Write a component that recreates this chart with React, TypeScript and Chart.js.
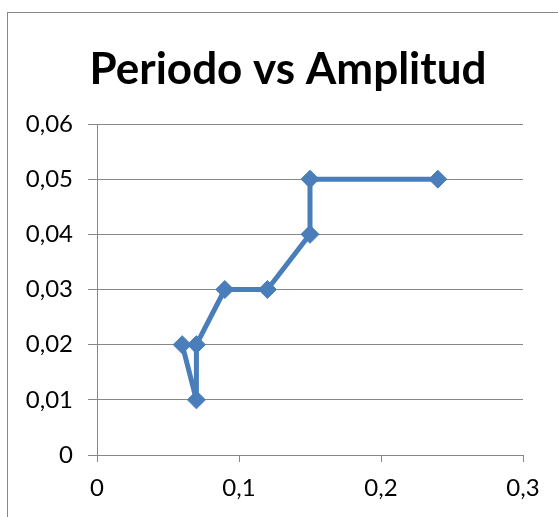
import React, { useEffect, useRef } from "react";
import { Chart, registerables } from "chart.js";

Chart.register(...registerables);

const titleText = "Periodo vs Amplitud";
const periodo = [0.06, 0.07, 0.07, 0.09, 0.12, 0.15, 0.15, 0.24];
const amplitud = [0.02, 0.01, 0.02, 0.03, 0.03, 0.04, 0.05, 0.05];
const xTickLabels = ["0", "0,1", "0,2", "0,3"];
const yTickLabels = ["0", "0,01", "0,02", "0,03", "0,04", "0,05", "0,06"];

const FONT = "Lato, 'Open Sans', sans-serif";
const GRID = "#878787";
const BLUE = "#4a7ebb";

const frame = {
  id: "frame",
  beforeDraw(chart: any) {
    const ctx = chart.ctx;
    ctx.save();
    ctx.fillStyle = "#ffffff";
    ctx.fillRect(0, 0, chart.width, chart.height);
    ctx.strokeStyle = GRID;
    ctx.lineWidth = 1;
    ctx.strokeRect(7.5, 12.5, 700, 700);
    ctx.restore();
  },
  afterDraw(chart: any) {
    const ctx = chart.ctx;
    ctx.save();
    ctx.fillStyle = "#000000";
    ctx.font = `bold 44px ${FONT}`;
    ctx.textAlign = "center";
    ctx.textBaseline = "middle";
    ctx.fillText(titleText, 288, 70);
    ctx.restore();
  },
};

export default function App() {
  const ref = useRef<HTMLCanvasElement | null>(null);
  useEffect(() => {
    if (!ref.current) return;
    const points = periodo.map((x, i) => ({ x, y: amplitud[i] }));
    const chart = new Chart(ref.current, {
      type: "scatter",
      data: {
        datasets: [
          {
            data: points,
            showLine: true,
            borderColor: BLUE,
            backgroundColor: BLUE,
            borderWidth: 5,
            borderJoinStyle: "round",
            borderCapStyle: "round",
            pointStyle: "rectRot",
            pointRadius: 9,
            pointBorderWidth: 1,
            pointBackgroundColor: BLUE,
            pointBorderColor: BLUE,
            tension: 0,
          },
        ],
      },
      options: {
        responsive: false,
        animation: false,
        layout: { padding: { top: 124, right: 35, bottom: 0, left: 0 } },
        plugins: {
          legend: { display: false },
          tooltip: { enabled: false },
          title: { display: false },
        },
        scales: {
          x: {
            type: "linear",
            min: 0,
            max: 0.3,
            afterBuildTicks(scale: any) {
              scale.ticks = xTickLabels.map((_, i) => ({ value: i * 0.1 }));
            },
            afterFit(scale: any) {
              scale.height = 62;
            },
            ticks: {
              color: "#000000",
              font: { family: FONT, size: 24 },
              padding: 12,
              maxRotation: 0,
              callback: (_v: any, i: number) => xTickLabels[i],
            },
            grid: {
              drawOnChartArea: false,
              drawTicks: true,
              tickLength: 7,
              color: GRID,
              lineWidth: 1,
            },
            border: { display: true, color: GRID, width: 1 },
          },
          y: {
            type: "linear",
            min: 0,
            max: 0.06,
            afterBuildTicks(scale: any) {
              scale.ticks = yTickLabels.map((_, i) => ({ value: i * 0.01 }));
            },
            afterFit(scale: any) {
              scale.width = 97;
            },
            ticks: {
              color: "#000000",
              font: { family: FONT, size: 24 },
              padding: 15,
              callback: (_v: any, i: number) => yTickLabels[i],
            },
            grid: {
              drawOnChartArea: true,
              drawTicks: true,
              tickLength: 9,
              color: GRID,
              lineWidth: 1,
            },
            border: { display: true, color: GRID, width: 1 },
          },
        },
      },
      plugins: [frame],
    });
    return () => chart.destroy();
  }, []);
  return (
    <div style={{ position: "fixed", left: 0, top: 0, width: 558, height: 517 }}>
      <canvas ref={ref} width={558} height={517} style={{ display: "block" }} />
    </div>
  );
}
